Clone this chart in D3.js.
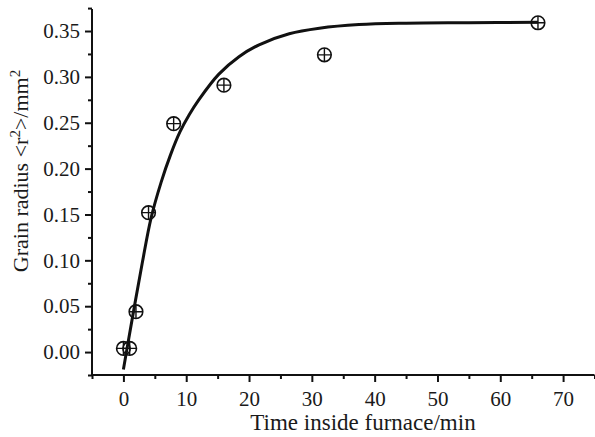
<!DOCTYPE html>
<html><head><meta charset="utf-8">
<script src="https://cdn.jsdelivr.net/npm/d3@7"></script>
<style>body{margin:0;background:#fff}svg{display:block}text{font-family:"Liberation Serif","Times New Roman",serif;fill:#1a1a1a}</style>
</head><body><svg id="c" width="595" height="437"></svg>
<script>
// Measured data points (time in min, mean squared grain radius in mm^2)
const timeMin = [0, 1, 2, 4, 8, 16, 32, 66];
const radiusSq = [0.004, 0.004, 0.044, 0.152, 0.249, 0.291, 0.324, 0.359];
// Fitted curve
const fitTime = [0, 1.5, 3, 4.4, 6, 7.5, 9, 10.5, 12, 15.2, 18.4, 21.6, 26.4, 31.2, 37.5, 45, 55, 66];
const fitRadius = [-0.019, 0.040, 0.097, 0.146, 0.185, 0.215, 0.240, 0.259, 0.275, 0.303, 0.322, 0.335, 0.347, 0.353, 0.357, 0.3585, 0.359, 0.3595];
const xTicks = [0, 10, 20, 30, 40, 50, 60, 70];
const xMinor = [-5, 5, 15, 25, 35, 45, 55, 65, 75];
const yTicks = [0, 0.05, 0.10, 0.15, 0.20, 0.25, 0.30, 0.35];
const yMinor = [-0.025, 0.025, 0.075, 0.125, 0.175, 0.225, 0.275, 0.325, 0.375];

const svg = d3.select("#c");
const x = d3.scaleLinear().domain([-5, 75]).range([92, 594.5]);
const y = d3.scaleLinear().domain([-0.025, 0.374]).range([375, 9]);

const g = svg.append("g");
const xAxis = d3.axisBottom(x).tickValues(xTicks).tickFormat(d3.format("d")).tickSize(7).tickPadding(9);
const xAxisMinor = d3.axisBottom(x).tickValues(xMinor).tickFormat("").tickSize(4);
const yAxis = d3.axisLeft(y).tickValues(yTicks).tickFormat(d3.format(".2f")).tickSize(7).tickPadding(5);
const yAxisMinor = d3.axisLeft(y).tickValues(yMinor).tickFormat("").tickSize(4);

function style(sel){
  sel.attr("font-family", null);
  sel.select(".domain").attr("stroke","#111").attr("stroke-width",2);
  sel.selectAll(".tick line").attr("stroke","#111").attr("stroke-width",2);
  sel.selectAll(".tick text").attr("font-size","21px").attr("fill","#1a1a1a");
}
g.append("g").attr("transform",`translate(0,${y.range()[0]})`).call(xAxisMinor).call(style).select(".domain").remove();
g.append("g").attr("transform",`translate(${x.range()[0]},0)`).call(yAxisMinor).call(style).select(".domain").remove();
const gx = g.append("g").attr("transform",`translate(0,${y.range()[0]})`).call(xAxis).call(style);
gx.select(".domain").attr("d",`M${x.range()[0]},0H${x.range()[1]}`);
const gy = g.append("g").attr("transform",`translate(${x.range()[0]},0)`).call(yAxis).call(style);
gy.select(".domain").attr("d",`M0,${y.range()[1]}V${y.range()[0]}`);

// Fitted curve
const fit = fitTime.map((t,i)=>[t, fitRadius[i]]);
g.append("path").datum(fit)
  .attr("d", d3.line().x(d=>x(d[0])).y(d=>y(d[1])).curve(d3.curveCatmullRom.alpha(0.5)))
  .attr("fill","none").attr("stroke","#111").attr("stroke-width",3);

// Markers: circle with cross
const pts = timeMin.map((t,i)=>[t, radiusSq[i]]);
const m = g.append("g").selectAll("g").data(pts).join("g")
  .attr("transform", d=>`translate(${x(d[0])},${y(d[1])})`);
const r = 6.8;
m.append("circle").attr("r", r).attr("fill","none").attr("stroke","#111").attr("stroke-width",1.6);
m.append("path").attr("d",`M${-r},0H${r}M0,${-r}V${r}`).attr("stroke","#111").attr("stroke-width",1.4);

// Axis titles
svg.append("text").attr("x",363).attr("y",430).attr("text-anchor","middle").attr("font-size","23px")
  .text("Time inside furnace/min");
const yt = svg.append("text").attr("transform","translate(28,171) rotate(-90)").attr("text-anchor","middle").attr("font-size","22px");
yt.append("tspan").text("Grain radius <r");
yt.append("tspan").attr("dy",-8).attr("font-size","15px").text("2");
yt.append("tspan").attr("dy",8).text(">/mm");
yt.append("tspan").attr("dy",-8).attr("font-size","15px").text("2");
</script></body></html>
